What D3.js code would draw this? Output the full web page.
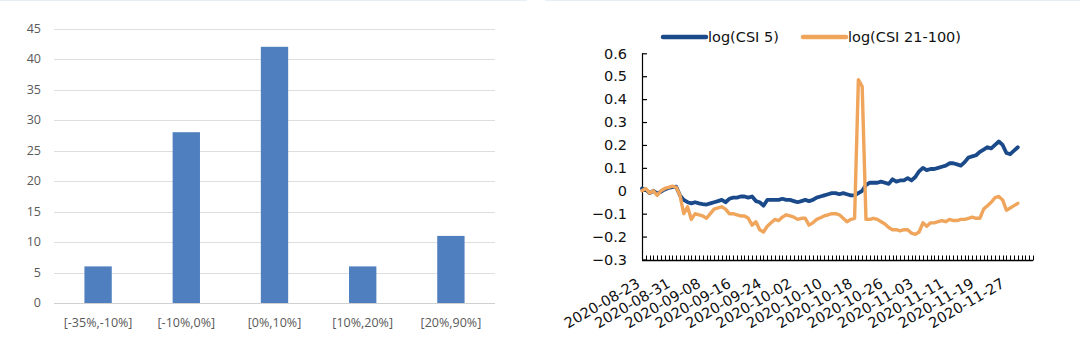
<!DOCTYPE html>
<html>
<head>
<meta charset="utf-8">
<script src="https://cdn.jsdelivr.net/npm/d3@7"></script>
<style>
  html, body { margin: 0; padding: 0; background: #ffffff; }
  svg { display: block; }
</style>
</head>
<body>
<svg id="chart" width="1080" height="346"></svg>
<script>
// ---------- Left chart data ----------
const binCategories = ["[-35%,-10%]", "[-10%,0%]", "[0%,10%]", "[10%,20%]", "[20%,90%]"];
const binCounts = [6, 28, 42, 6, 11];
const leftTicks = [0, 5, 10, 15, 20, 25, 30, 35, 40, 45];

// ---------- Right chart data ----------
const startDate = "2020-08-23";
const endDate = "2020-11-30";
const axisEndDate = "2020-12-04";
const labelDates = ["2020-08-23","2020-08-31","2020-09-08","2020-09-16","2020-09-24","2020-10-02",
  "2020-10-10","2020-10-18","2020-10-26","2020-11-03","2020-11-11","2020-11-19","2020-11-27"];
const rightTicks = [-0.3, -0.2, -0.1, 0, 0.1, 0.2, 0.3, 0.4, 0.5, 0.6];
const seriesNames = ["log(CSI 5)", "log(CSI 21-100)"];
const csi5 = [
  0.01, 0.005, -0.01, 0.0, -0.012, -0.004, 0.006, 0.012, 0.016, 0.018,
  -0.02, -0.04, -0.05, -0.055, -0.05, -0.055, -0.058, -0.06, -0.055, -0.05,
  -0.045, -0.04, -0.05, -0.035, -0.03, -0.03, -0.025, -0.025, -0.03, -0.025,
  -0.045, -0.05, -0.065, -0.04, -0.04, -0.04, -0.04, -0.035, -0.04, -0.04,
  -0.045, -0.05, -0.045, -0.04, -0.045, -0.04, -0.03, -0.025, -0.02, -0.015,
  -0.01, -0.01, -0.015, -0.01, -0.015, -0.02, -0.02, -0.01, 0.0, 0.025,
  0.035, 0.035, 0.035, 0.04, 0.035, 0.03, 0.05, 0.04, 0.045, 0.045,
  0.055, 0.045, 0.06, 0.085, 0.1, 0.09, 0.095, 0.095, 0.1, 0.105,
  0.11, 0.12, 0.12, 0.115, 0.11, 0.125, 0.145, 0.15, 0.155, 0.17,
  0.18, 0.19, 0.185, 0.2, 0.215, 0.2, 0.165, 0.16, 0.175, 0.19
];
const csi21 = [
  0.0, 0.01, -0.01, 0.0, -0.02, 0.0, 0.01, 0.015, 0.02, 0.015,
  -0.02, -0.1, -0.07, -0.125, -0.1, -0.105, -0.11, -0.12, -0.1, -0.08,
  -0.075, -0.07, -0.08, -0.1, -0.1, -0.105, -0.11, -0.11, -0.12, -0.15,
  -0.135, -0.17, -0.18, -0.155, -0.14, -0.125, -0.13, -0.115, -0.105, -0.11,
  -0.115, -0.125, -0.12, -0.12, -0.15, -0.14, -0.125, -0.118, -0.11, -0.105,
  -0.1, -0.1, -0.105, -0.12, -0.135, -0.125, -0.12, 0.485, 0.455, -0.125,
  -0.125, -0.12, -0.125, -0.135, -0.145, -0.16, -0.17, -0.17, -0.175, -0.17,
  -0.17, -0.185, -0.19, -0.18, -0.14, -0.155, -0.14, -0.14, -0.135, -0.13,
  -0.135, -0.125, -0.13, -0.13, -0.125, -0.125, -0.12, -0.115, -0.12, -0.12,
  -0.08, -0.065, -0.05, -0.03, -0.025, -0.04, -0.085, -0.075, -0.065, -0.055
];

const svg = d3.select("#chart");
const parse = d3.timeParse("%Y-%m-%d");

// faint panel top borders
svg.append("line").attr("x1", 0).attr("x2", 527).attr("y1", 0.5).attr("y2", 0.5)
  .attr("stroke", "#e6eff4").attr("stroke-width", 1);
svg.append("line").attr("x1", 545).attr("x2", 1080).attr("y1", 0.5).attr("y2", 0.5)
  .attr("stroke", "#e6eff4").attr("stroke-width", 1);

// ================= LEFT CHART =================
const L = { x0: 54, x1: 495, yTop: 28.5, yBot: 303 };
const xL = d3.scaleBand().domain(binCategories).range([L.x0, L.x1])
  .paddingInner(0.69).paddingOuter(0.345);
const yL = d3.scaleLinear().domain([0, 45]).range([L.yBot, L.yTop]);
const gL = svg.append("g");

gL.selectAll("line.grid").data(leftTicks).join("line")
  .attr("class", "grid")
  .attr("x1", L.x0).attr("x2", L.x1)
  .attr("y1", d => Math.round(yL(d)) + 0.5).attr("y2", d => Math.round(yL(d)) + 0.5)
  .attr("stroke", d => d === 0 ? "#d0d0d0" : "#dedede").attr("stroke-width", 1);

gL.selectAll("rect.bar").data(binCounts).join("rect")
  .attr("class", "bar")
  .attr("x", (d, i) => xL(binCategories[i]))
  .attr("width", xL.bandwidth())
  .attr("y", d => yL(d))
  .attr("height", d => yL(0) - yL(d))
  .attr("fill", "#4f7fbf");

gL.selectAll("text.ytick").data(leftTicks).join("text")
  .attr("class", "ytick")
  .attr("x", 41).attr("y", d => yL(d))
  .attr("dy", "0.35em")
  .attr("text-anchor", "end")
  .attr("font-family", "'Open Sans', 'Liberation Sans', sans-serif")
  .attr("font-size", "12.5px")
  .attr("fill", "#595959")
  .text(d => d);

gL.selectAll("text.xtick").data(binCategories).join("text")
  .attr("class", "xtick")
  .attr("x", d => xL(d) + xL.bandwidth() / 2)
  .attr("y", 323).attr("dy", "0.35em")
  .attr("text-anchor", "middle")
  .attr("font-family", "'Open Sans', 'Liberation Sans', sans-serif")
  .attr("font-size", "12.5px")
  .attr("fill", "#595959")
  .text(d => d);

// ================= RIGHT CHART =================
const R = { x0: 642, x1: 1033, yTop: 53.3, yBot: 259.5 };
const dates = d3.timeDay.range(parse(startDate), d3.timeDay.offset(parse(endDate), 1));
const xR = d3.scaleTime().domain([parse(startDate), parse(axisEndDate)]).range([R.x0, R.x1]);
const yR = d3.scaleLinear().domain([-0.3, 0.6]).range([R.yBot, R.yTop]);
const gR = svg.append("g");
const fontR = "'DejaVu Sans', Verdana, sans-serif";

// Y axis
const yAxis = d3.axisRight(yR).tickValues(rightTicks).tickSize(5).tickFormat(() => "");
gR.append("g").attr("transform", `translate(${R.x0},0)`).call(yAxis)
  .call(g => g.select(".domain").attr("d", `M0.5,${R.yTop}V${R.yBot}`).attr("stroke", "#000").attr("stroke-width", 1.2))
  .call(g => g.selectAll(".tick line").attr("stroke", "#000").attr("stroke-width", 1.2));

gR.selectAll("text.ytick").data(rightTicks).join("text")
  .attr("class", "ytick")
  .attr("x", 627).attr("y", d => yR(d)).attr("dy", "0.36em")
  .attr("text-anchor", "end")
  .attr("font-family", fontR).attr("font-size", "14.5px").attr("fill", "#111")
  .text(d => d === 0 ? "0" : d3.format(".1f")(d));

// X axis with daily tick marks
const dayTicks = xR.ticks(d3.timeDay.every(1));
const gX = gR.append("g").attr("transform", `translate(0,${Math.round(R.yBot)})`);
gX.append("line").attr("x1", R.x0).attr("x2", R.x1).attr("y1", 0.5).attr("y2", 0.5)
  .attr("stroke", "#000").attr("stroke-width", 1.4);
gX.selectAll("line.dtick").data(dayTicks).join("line")
  .attr("class", "dtick")
  .attr("x1", d => Math.round(xR(d)) + 0.5).attr("x2", d => Math.round(xR(d)) + 0.5)
  .attr("y1", 0.5).attr("y2", -4.5)
  .attr("stroke", "#000").attr("stroke-width", 1);

gR.selectAll("text.xtick").data(labelDates).join("text")
  .attr("class", "xtick")
  .attr("transform", d => `translate(${xR(parse(d)) - 1},${R.yBot + 27}) rotate(-30)`)
  .attr("text-anchor", "end")
  .attr("font-family", fontR).attr("font-size", "14.5px").attr("fill", "#111")
  .text(d => d);

// lines
const line = d3.line().x((d, i) => xR(dates[i])).y(d => yR(d)).curve(d3.curveLinear);
gR.append("path").datum(csi5).attr("d", line)
  .attr("fill", "none").attr("stroke", "#1b4a8b").attr("stroke-width", 3.8)
  .attr("stroke-linejoin", "round").attr("stroke-linecap", "round");
gR.append("path").datum(csi21).attr("d", line)
  .attr("fill", "none").attr("stroke", "#f0a55c").attr("stroke-width", 3.4)
  .attr("stroke-linejoin", "round").attr("stroke-linecap", "round");

// legend
const legendColors = ["#1b4a8b", "#f0a55c"];
const legendX = [663, 803];
seriesNames.forEach((name, i) => {
  gR.append("line").attr("x1", legendX[i]).attr("x2", legendX[i] + 43)
    .attr("y1", 37).attr("y2", 37)
    .attr("stroke", legendColors[i]).attr("stroke-width", 4.5).attr("stroke-linecap", "round");
  gR.append("text").attr("x", legendX[i] + 45).attr("y", 37).attr("dy", "0.36em")
    .attr("font-family", fontR).attr("font-size", "14.5px").attr("fill", "#111")
    .text(name);
});
</script>
</body>
</html>
